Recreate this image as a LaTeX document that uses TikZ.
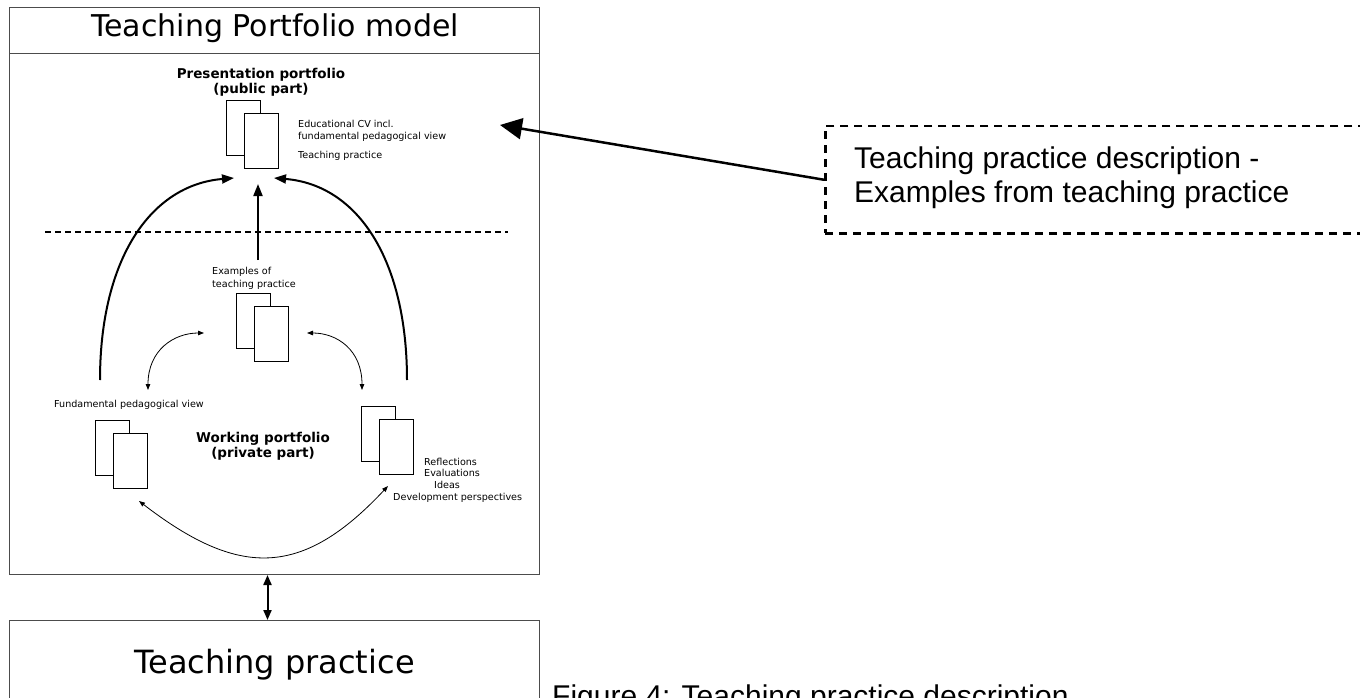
\documentclass[tikz,border=0pt]{standalone}
\usepackage{fontspec}
\setmainfont{DejaVu Sans}
\newfontfamily\arialfont{Liberation Sans}
\usetikzlibrary{arrows.meta}

\begin{document}
\begin{tikzpicture}[x=1pt,y=-1pt,
  frame/.style={draw=black!70, line width=1pt, inner sep=0pt, anchor=north west},
  page/.style={draw, fill=white, line width=0.8pt, minimum width=34pt, minimum height=55pt, inner sep=0pt, anchor=north west},
  note/.style={font=\fontsize{9.6}{11.5}\selectfont, inner sep=0pt, anchor=base west},
  part/.style={font=\fontsize{13.5}{15.5}\selectfont\bfseries, align=center, inner sep=0pt, anchor=north},
  bigarrow/.style={line width=2pt, -{Triangle[length=12pt,width=9pt]}},
  twoway/.style={line width=0.8pt, {Triangle[length=6pt,width=4.5pt]}-{Triangle[length=6pt,width=4.5pt]}}]
  \useasboundingbox (0,0) rectangle (1360,698);
  \fill[white] (0,0) rectangle (1360,698);

  % the two boxes
  \node[frame, minimum width=530pt, minimum height=567pt] (model) at (9,7) {};
  \draw[draw=black!70, line width=1pt] (9,54) -- (539,54); % title strip
  \node[font=\fontsize{30}{36}\selectfont, anchor=base] (title) at (275,37) {Teaching Portfolio model};
  \node[frame, minimum width=530pt, minimum height=89pt, font=\fontsize{32}{38}\selectfont] (practice) at (9,620) {Teaching practice};
  \draw[line width=2pt, {Triangle[length=10pt,width=8pt]}-{Triangle[length=10pt,width=8pt]}] ([xshift=-7pt]model.south) -- ([xshift=-7pt]practice.north);

  % document icons
  \foreach \name/\px/\py in {pres/226/100, exam/236/293, view/95/420, refl/361/406} {
    \node[page] (\name-back) at (\px,\py) {};
    \node[page] (\name-front) at (\px+17.5,\py+13) {};
  }

  \node[part] (pres) at (261,67.7) {Presentation portfolio\\(public part)};
  \node[part] (work) at (263,431.7) {Working portfolio\\(private part)};
  \node[note] (cv) at (298,127.5) {Educational CV incl.};
  \node[note] (fund) at (298,139.5) {fundamental pedagogical view};
  \node[note] (tp) at (298,159) {Teaching practice};
  \node[note] (exlab) at (212,274) {Examples of};
  \node[note] (exlab2) at (212,287) {teaching practice};
  \node[note] (viewlab) at (54,407) {Fundamental pedagogical view};
  \node[note] (refl1) at (424,465) {Reflections};
  \node[note] (refl2) at (424,476.5) {Evaluations};
  \node[note] (refl3) at (434,488) {Ideas};
  \node[note] (refl4) at (393,500) {Development perspectives};

  \draw[line width=2pt, dash pattern=on 6pt off 4pt] (45,232) -- (508,232); % public / private

  % connectors
  \coordinate (l-foot) at (100,380);  \coordinate (l-head) at (234,178);
  \coordinate (r-foot) at (407,380);  \coordinate (r-head) at (274,178);
  \coordinate (c-foot) at (258,260);  \coordinate (c-head) at (258,184);
  \coordinate (sl-a) at (148,390);    \coordinate (sl-b) at (204,333);
  \coordinate (sr-a) at (307,333);    \coordinate (sr-b) at (362,390);
  \coordinate (b-a) at (139,501);     \coordinate (b-b) at (388,486);
  \draw[bigarrow] (l-foot) .. controls +(0,-120) and +(-84,7) .. (l-head);
  \draw[bigarrow] (r-foot) .. controls +(0,-120) and +(84,7) .. (r-head);
  \draw[bigarrow] (c-foot) -- (c-head);
  \draw[twoway] (sl-a) .. controls +(0,-40) and +(-30,0) .. (sl-b);
  \draw[twoway] (sr-a) .. controls +(30,0) and +(0,-40) .. (sr-b);
  \draw[twoway] (b-a) .. controls +(100,77) and +(-86,92) .. (b-b);

  % callout on the right
  \node[draw, line width=2.5pt, dash pattern=on 8pt off 6pt, minimum width=560pt, minimum height=107pt, inner sep=0pt, anchor=north west] (callout) at (824,125) {};
  \node[font=\arialfont\fontsize{30}{34}\selectfont, align=left, inner sep=0pt, anchor=north west] (calltext) at (854,146.5) {Teaching practice description -\\Examples from teaching practice};
  \coordinate (pres-in) at (500,125);
  \draw[line width=2.5pt, -{Triangle[length=22pt,width=21pt]}] (callout.west) -- (pres-in);

  \node[font=\arialfont\fontsize{30}{36}\selectfont, anchor=base west, inner sep=0pt] (caption) at (552,706) {Figure 4: Teaching practice description};
\end{tikzpicture}
\end{document}
